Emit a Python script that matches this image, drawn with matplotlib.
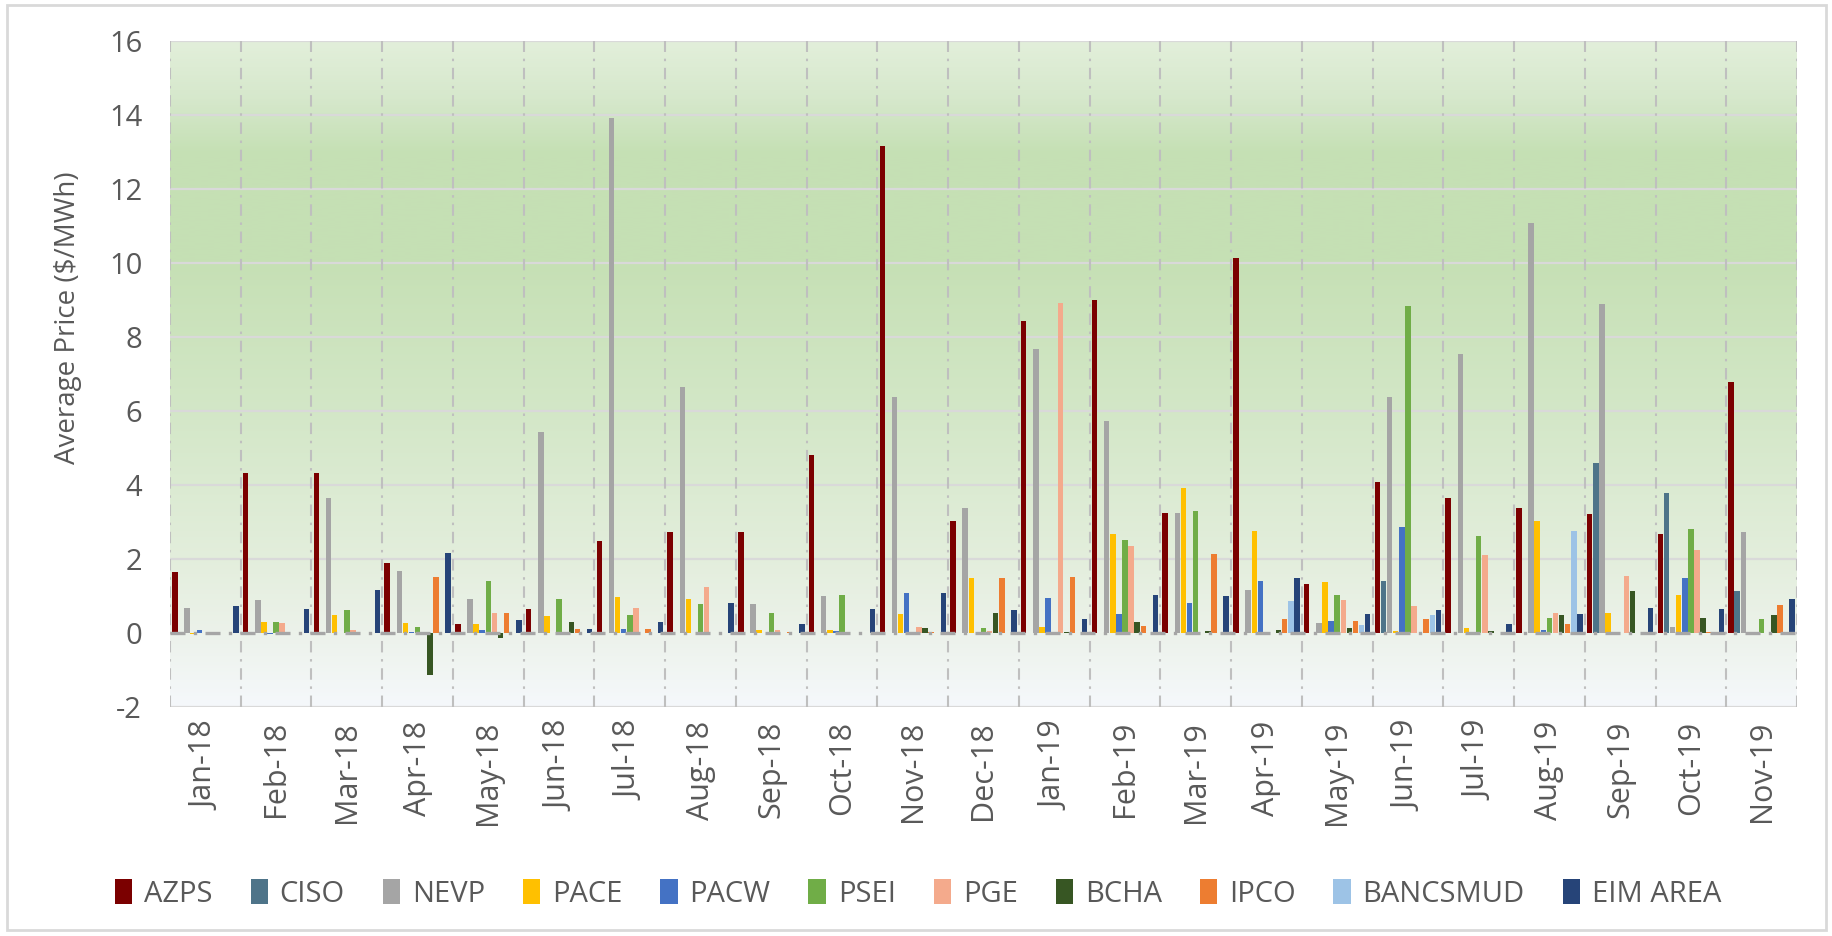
import numpy as np
import matplotlib
matplotlib.use("Agg")
import matplotlib.pyplot as plt
from matplotlib.colors import LinearSegmentedColormap
from matplotlib.patches import Rectangle, Patch

months = ["Jan-18", "Feb-18", "Mar-18", "Apr-18", "May-18", "Jun-18", "Jul-18",
          "Aug-18", "Sep-18", "Oct-18", "Nov-18", "Dec-18", "Jan-19", "Feb-19",
          "Mar-19", "Apr-19", "May-19", "Jun-19", "Jul-19", "Aug-19", "Sep-19",
          "Oct-19", "Nov-19"]

azps = [1.65, 4.32, 4.32, 1.89, 0.23, 0.65, 2.49, 2.73, 2.73, 4.80, 13.16, 3.04,
        8.44, 9.00, 3.24, 10.14, 1.33, 4.08, 3.66, 3.39, 3.21, 2.68, 6.78]
ciso = [-0.02, -0.05, 0, 0, 0, 0, 0.01, 0, 0, 0, 0, 0,
        0, 0, 0, 0, 0, 1.41, 0, 0, 4.59, 3.79, 1.14]
nevp = [0.68, 0.88, 3.66, 1.68, 0.92, 5.42, 13.92, 6.64, 0.78, 0.99, 6.37, 3.38,
        7.68, 5.74, 3.24, 1.16, 0.27, 6.37, 7.54, 11.07, 8.89, 0.16, 2.72]
pace = [-0.02, 0.30, 0.48, 0.26, 0.23, 0.45, 0.96, 0.93, 0.09, 0.09, 0.51, 1.48,
        0.16, 2.68, 3.93, 2.77, 1.38, 0.05, 0.13, 3.04, 0.55, 1.03, 0.01]
pacw = [0.09, -0.02, 0, 0.03, 0.07, 0, 0.10, 0, 0, 0.06, 1.09, 0,
        0.95, 0.51, 0.82, 1.41, 0.33, 2.86, 0, 0.09, 0, 1.48, 0]
psei = [0, 0.30, 0.61, 0.16, 1.41, 0.93, 0.48, 0.79, 0.55, 1.03, 0, 0.13,
        0, 2.52, 3.31, 0.02, 1.04, 8.83, 2.62, 0.41, 0, 2.82, 0.37]
pge = [0.02, 0.26, 0.09, 0, 0.55, 0.01, 0.68, 1.24, 0.09, 0, 0.16, 0.05,
       8.93, 2.34, 0, 0, 0.89, 0.72, 2.10, 0.54, 1.55, 2.24, 0]
bcha = [0, 0, 0, -1.14, -0.14, 0.31, 0, 0, 0, 0, 0.13, 0.55,
        0.03, 0.30, 0.05, 0.09, 0.14, 0, 0.06, 0.48, 1.14, 0.41, 0.48]
ipco = [0, 0, 0, 1.52, 0.55, 0.10, 0.10, 0, 0.02, 0, 0.02, 1.49,
        1.52, 0.20, 2.14, 0.37, 0.33, 0.37, 0, 0.23, 0, 0.02, 0.76]
bancsmud = [0, 0, 0, 0, 0, 0, 0, 0, 0, 0, 0, 0,
            0, 0, 0, 0.86, 0.21, 0.48, 0, 2.77, 0, 0, 0]
eim_area = [0.72, 0.65, 1.17, 2.16, 0.34, 0.10, 0.31, 0.82, 0.23, 0.65, 1.09, 0.61,
            0.37, 1.03, 0.99, 1.48, 0.51, 0.61, 0.23, 0.51, 0.68, 0.65, 0.93]

series_names = ["AZPS", "CISO", "NEVP", "PACE", "PACW", "PSEI", "PGE", "BCHA",
                "IPCO", "BANCSMUD", "EIM AREA"]
series_values = [azps, ciso, nevp, pace, pacw, psei, pge, bcha, ipco, bancsmud, eim_area]
colors = ["#7B0000", "#4E7489", "#A5A5A5", "#FFC000", "#4472C4", "#70AD47",
          "#F4AA8C", "#375623", "#ED7D31", "#9DC3E6", "#264478"]

y_ticks = [-2, 0, 2, 4, 6, 8, 10, 12, 14, 16]

TEXT = "#595959"
FONT = "Open Sans"

W, H = 1833, 936
fig = plt.figure(figsize=(W / 100, H / 100), dpi=100)
fig.patch.set_facecolor("white")

# outer chart border
fig.add_artist(Rectangle((7 / W, 1 - 930 / H), (1826 - 7) / W, (930 - 5) / H,
                         transform=fig.transFigure, fill=False,
                         edgecolor="#D9D9D9", lw=2))

left, right, top, bottom = 170, 1797, 41, 707
ax = fig.add_axes([left / W, 1 - bottom / H, (right - left) / W, (bottom - top) / H])

n = len(months)
x = np.arange(n)
ax.set_xlim(-0.5, n - 0.5)
ax.set_ylim(-2, 16)

# plot-area gradient background
stops = [(-2, "#F5F8FB"), (0, "#ECF2EA"), (2, "#E3EEDC"), (6, "#D3E7C7"),
         (10, "#C6E0B5"), (13, "#C5E0B4"), (14.5, "#D6E8CC"), (16, "#E2EFDA")]
cmap = LinearSegmentedColormap.from_list(
    "bg", [((v + 2) / 18, c) for v, c in stops])
grad = np.linspace(0, 1, 400).reshape(-1, 1)
ax.imshow(grad, extent=[-0.5, n - 0.5, -2, 16], origin="lower", aspect="auto",
          cmap=cmap, zorder=0, interpolation="bicubic")

# horizontal gridlines
for t in y_ticks:
    if t == 0:
        continue
    ax.axhline(t, color="#D9D9D9", lw=1.6, zorder=1)

# vertical dash-dot gridlines at group boundaries
for b in np.arange(-0.5, n, 1.0):
    ax.axvline(b, color="#BFBFBF", lw=1.5, linestyle=(0, (5.5, 3.2, 1.2, 3.2)),
               zorder=1)

# bars
nser = len(series_names)
slot = 1.0 / (nser + 0.6)
bw = slot * 0.9
for i, (name, vals, col) in enumerate(zip(series_names, series_values, colors)):
    offs = (i - (nser - 1) / 2) * slot
    ax.bar(x + offs, vals, width=bw, color=col, zorder=3, label=name,
           linewidth=0)

# zero axis line
ax.axhline(0, color="#A6A6A6", lw=2.4, linestyle=(0, (4.5, 2.5, 1, 2.5)), zorder=4)

for s in ax.spines.values():
    s.set_visible(False)

ax.set_yticks(y_ticks)
ax.set_yticklabels([str(t) for t in y_ticks], fontsize=21, color=TEXT, family=FONT)
ax.set_xticks(x)
ax.set_xticklabels(months, rotation=90, fontsize=22, color=TEXT, family=FONT)
ax.tick_params(axis="both", length=0)
ax.tick_params(axis="y", pad=20)
ax.tick_params(axis="x", pad=10)

fig.text(68 / W, 1 - 318 / H, "Average Price ($/MWh)", rotation=90, ha="center",
         va="center", fontsize=20, color=TEXT, family=FONT)

handles = [Patch(facecolor=c, edgecolor="none") for c in colors]
leg = fig.legend(handles, series_names, loc="center", ncol=nser,
                 bbox_to_anchor=(918 / W, 1 - 894 / H), frameon=False,
                 prop={"family": FONT, "size": 21}, handlelength=0.6,
                 handleheight=0.9, handletextpad=0.4, columnspacing=1.3)
for t in leg.get_texts():
    t.set_color(TEXT)

fig.savefig("out.png", dpi=100, facecolor="white")
